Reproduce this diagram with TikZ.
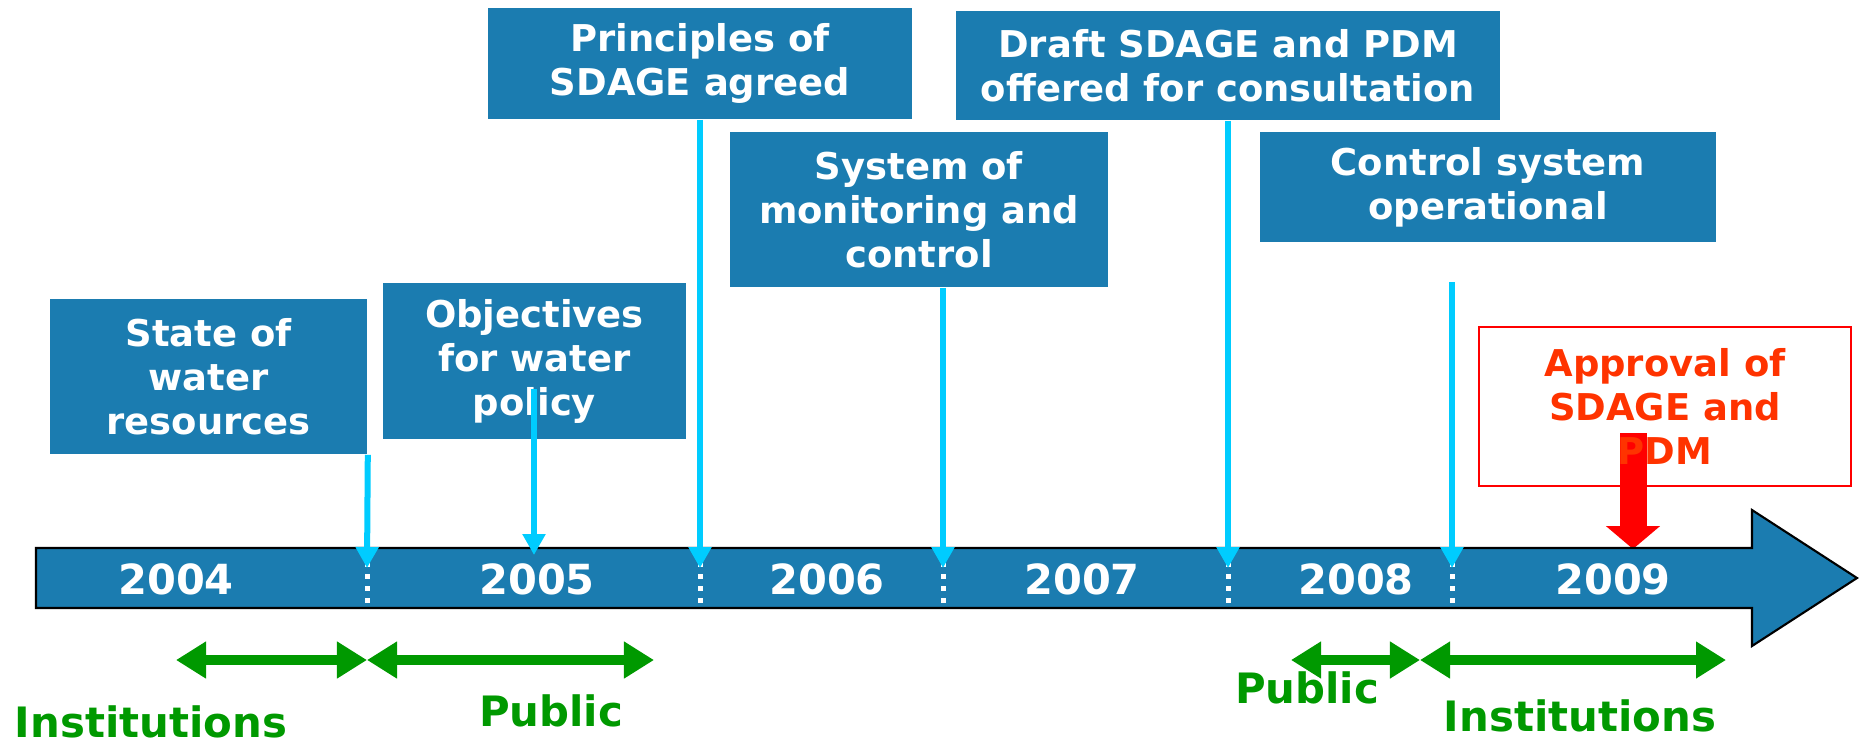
\documentclass[tikz,border=0pt]{standalone}
\usepackage{fontspec}
\setmainfont{DejaVu Sans}
\usepackage{xcolor}
\usepackage{tikz}
\usetikzlibrary{arrows.meta}
\pgfdeclarelayer{background}
\pgfsetlayers{background,main}
\definecolor{barblue}{RGB}{27,124,176}
\definecolor{markcyan}{RGB}{0,204,255}
\definecolor{spangreen}{RGB}{0,153,0}
\definecolor{apprred}{RGB}{255,51,0}

\begin{document}
\begin{tikzpicture}[x=0.01cm,y=-0.01cm,
  evbox/.style={fill=barblue,text=white,inner sep=0pt,align=center,
    font=\bfseries\fontsize{10.5}{12.5}\selectfont},
  yearlbl/.style={text=white,font=\bfseries\fontsize{11.8}{14}\selectfont},
  grouplbl/.style={text=spangreen,font=\bfseries\fontsize{11.9}{14}\selectfont},
  evarrow/.style={draw=markcyan,line width=0.06cm,-{Triangle[width=0.22cm,length=0.21cm]}},
  grpspan/.style={draw=spangreen,line width=0.1cm,
    {Triangle[width=0.35cm,length=0.3cm]}-{Triangle[width=0.35cm,length=0.3cm]}},
  yearsep/.style={draw=white,line width=0.05cm,dash pattern=on 0.05cm off 0.07cm}]
\useasboundingbox (0,0) rectangle (1860,744);

\node[evbox,minimum width=3.17cm,minimum height=1.55cm] (state) at (208.5,376.5) {State of\\water\\resources};
\node[evbox,minimum width=3.03cm,minimum height=1.56cm] (obj) at (534.5,361) {Objectives\\for water\\policy};
\node[evbox,minimum width=4.23cm,minimum height=1.11cm] (princ) at (700,63.5) {Principles of\\SDAGE agreed};
\node[evbox,minimum width=3.78cm,minimum height=1.55cm] (sys) at (919,209.5) {System of\\monitoring and\\control};
\node[evbox,minimum width=5.44cm,minimum height=1.09cm] (draft) at (1228,65.5) {Draft SDAGE and PDM\\offered for consultation};
\node[evbox,minimum width=4.56cm,minimum height=1.10cm] (ctrl) at (1488,187) {Control system\\operational};
\node[draw=red,line width=0.5pt,text=apprred,inner sep=0pt,align=center,
  font=\bfseries\fontsize{10.5}{12.5}\selectfont,
  minimum width=3.72cm,minimum height=1.59cm] (appr) at (1665,406.5) {Approval of\\SDAGE and\\PDM};

\draw[fill=barblue,line width=0.6pt] (36,548) -- (1752,548) -- (1752,510) -- (1857,578)
  -- (1752,646) -- (1752,608) -- (36,608) -- cycle;
\foreach \yr/\x in {2004/176,2005/537,2006/827,2007/1082,2008/1356,2009/1613}
  \node[yearlbl] (y\yr) at (\x,579) {\yr};
\foreach \x in {367,700,943,1228,1452}
  \draw[yearsep] (\x,562) -- (\x,604);

\coordinate (t1) at (367,568);
\coordinate (c2) at (534,389);
\coordinate (t2) at (534,555);
\coordinate (t4) at (943,568);
\coordinate (c6) at (1452,282);
\coordinate (t6) at (1452,568);
\draw[evarrow] (state.south east) -- (t1);
\draw[evarrow] (c2) -- (t2);
\draw[evarrow] (princ.south) -- (princ.south |- t1);
\draw[evarrow] (sys.south -| t4) -- (t4);
\draw[evarrow] (draft.south) -- (draft.south |- t1);
\draw[evarrow] (c6) -- (t6);

\coordinate (r0) at (1633,433);
\coordinate (r1) at (1633,549);
\begin{pgfonlayer}{background}
\draw[red,line width=0.27cm,-{Triangle[width=0.53cm,length=0.23cm]}] (r0) -- (r1);
\end{pgfonlayer}

\coordinate (g1) at (176,660);
\coordinate (g2) at (367,660);
\coordinate (g3) at (654,660);
\coordinate (g4) at (1291,660);
\coordinate (g5) at (1420,660);
\coordinate (g6) at (1726,660);
\draw[grpspan] (g1) -- (g2);
\draw[grpspan] (g2) -- (g3);
\draw[grpspan] (g4) -- (g5);
\draw[grpspan] (g5) -- (g6);
\node[grouplbl] (inst1) at (151,722) {Institutions};
\node[grouplbl] (pub1) at (551,711) {Public};
\node[grouplbl] (pub2) at (1307,688) {Public};
\node[grouplbl] (inst2) at (1580,716) {Institutions};
\end{tikzpicture}
\end{document}
